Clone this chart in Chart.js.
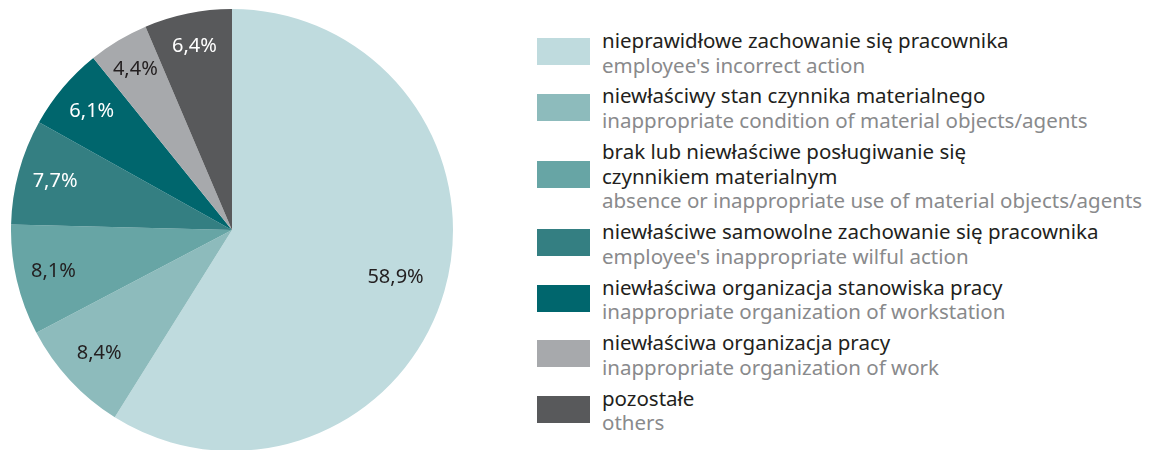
<!DOCTYPE html>
<html>
<head>
<meta charset="utf-8">
<script src="https://cdn.jsdelivr.net/npm/chart.js@4/dist/chart.umd.min.js"></script>
<style>
    html, body { margin: 0; padding: 0; background: #fff; width: 1161px; height: 450px; overflow: hidden; }
    .pie { position: absolute; left: 11px; top: 9px; width: 442px; height: 442px; }
    .legenda { position: absolute; left: 537px; top: 28px; font-family: "Noto Sans", sans-serif; font-size: 20.5px; }
    .item { position: relative; padding-left: 65px; margin-bottom: 6.3px; line-height: 24.6px; white-space: nowrap; }
    .item .box { position: absolute; left: 0; width: 53px; height: 27px; }
    .item .pl { color: #231f20; }
    .item .en { color: #898a8c; }
</style>
</head>
<body>
<div class="pie"><canvas id="grafico"></canvas></div>
<div class="legenda"></div>

<script>
// dados
const categoriasPL = [
    'nieprawidłowe zachowanie się pracownika',
    'niewłaściwy stan czynnika materialnego',
    'brak lub niewłaściwe posługiwanie się<br>czynnikiem materialnym',
    'niewłaściwe samowolne zachowanie się pracownika',
    'niewłaściwa organizacja stanowiska pracy',
    'niewłaściwa organizacja pracy',
    'pozostałe'
];
const categoriasEN = [
    "employee's incorrect action",
    'inappropriate condition of material objects/agents',
    'absence or inappropriate use of material objects/agents',
    "employee's inappropriate wilful action",
    'inappropriate organization of workstation',
    'inappropriate organization of work',
    'others'
];
const valores = [58.9, 8.4, 8.1, 7.7, 6.1, 4.4, 6.4];

const cores = ['#bfdbde', '#8dbbbc', '#67a5a5', '#347f82', '#00666d', '#a7a9ac', '#58595b'];
const coresTexto = ['#231f20', '#231f20', '#231f20', '#ffffff', '#ffffff', '#231f20', '#ffffff'];
const raioRotulo = [0.77, 0.82, 0.83, 0.83, 0.83, 0.85, 0.85];

function formatar(v) {
    return v.toFixed(1).replace('.', ',') + '%';
}

// rotulos dentro das fatias
const rotulos = {
    id: 'rotulos',
    afterDatasetsDraw(chart) {
        const ctx = chart.ctx;
        const meta = chart.getDatasetMeta(0);
        ctx.save();
        ctx.font = '20px "Noto Sans", sans-serif';
        ctx.textAlign = 'center';
        ctx.textBaseline = 'middle';
        meta.data.forEach((arc, i) => {
            const p = arc.getProps(['x', 'y', 'startAngle', 'endAngle', 'outerRadius'], true);
            const meio = (p.startAngle + p.endAngle) / 2;
            const r = p.outerRadius * raioRotulo[i];
            ctx.fillStyle = coresTexto[i];
            ctx.fillText(formatar(valores[i]), p.x + Math.cos(meio) * r, p.y + Math.sin(meio) * r);
        });
        ctx.restore();
    }
};

var ctx = document.getElementById('grafico').getContext('2d');
var grafico = new Chart(ctx, {
    type: 'pie',
    data: {
        labels: categoriasEN,
        datasets: [{
            data: valores,
            backgroundColor: cores,
            borderWidth: 0
        }]
    },
    options: {
        responsive: true,
        maintainAspectRatio: false,
        animation: false,
        layout: { padding: 0 },
        plugins: {
            legend: { display: false },
            tooltip: { enabled: false }
        }
    },
    plugins: [rotulos]
});

// legenda
const legenda = document.querySelector('.legenda');
categoriasPL.forEach((nome, i) => {
    var item = document.createElement('div');
    item.className = 'item';
    var linhas = nome.split('<br>').length + 1;
    var topo = (linhas * 24.6) / 2 - 13.5 - 1;
    item.innerHTML = '<div class="box" style="top:' + topo + 'px;background:' + cores[i] + '"></div>' +
        '<div class="pl">' + nome + '</div>' +
        '<div class="en">' + categoriasEN[i] + '</div>';
    legenda.appendChild(item);
});
</script>
</body>
</html>
